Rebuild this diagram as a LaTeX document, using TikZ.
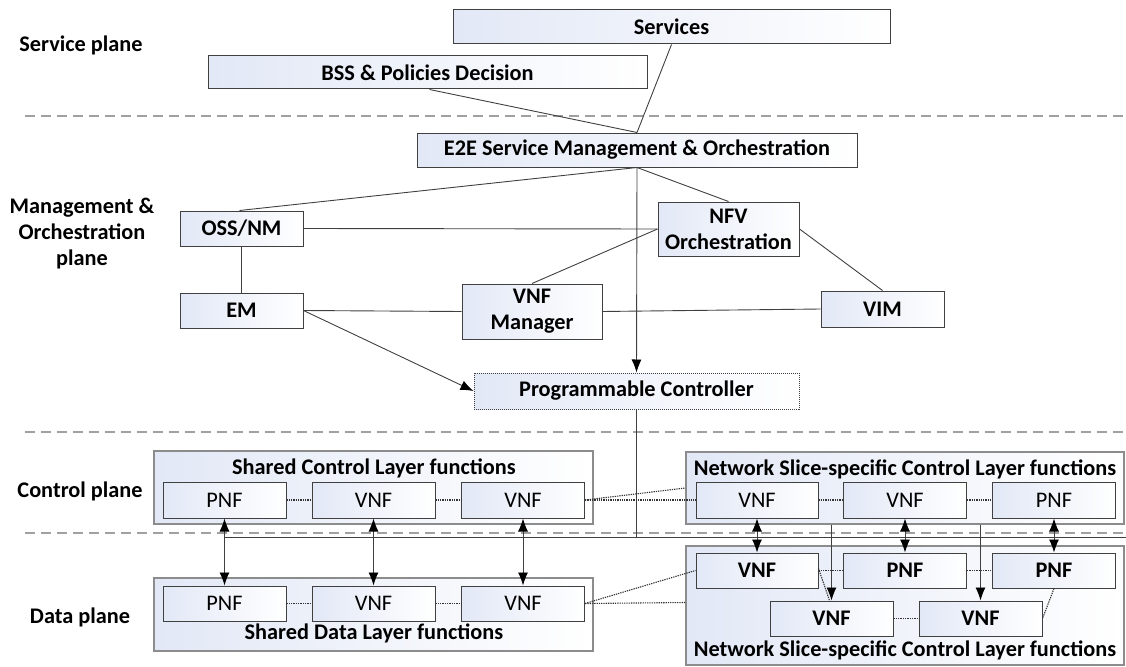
\documentclass[tikz,border=0pt]{standalone}
\usepackage{fontspec}
\setmainfont{Carlito}
\usetikzlibrary{arrows.meta}
\definecolor{boxblue}{RGB}{226,232,246}
\definecolor{edgegray}{RGB}{64,64,64}
\definecolor{framegray}{RGB}{140,140,140}
\definecolor{sepgray}{RGB}{160,160,160}
\tikzset{
  fn/.style={draw=edgegray, line width=1pt, left color=boxblue, right color=white,
    inner sep=0pt, align=center, font=\fontsize{22.3}{26}\selectfont\bfseries},
  fnreg/.style={fn, font=\fontsize{22.3}{26}\selectfont},
  frame/.style={draw=framegray, line width=1.4pt, left color=boxblue, right color=white, inner sep=0pt},
  ctrl/.style={fn, draw=edgegray, dash pattern=on 1pt off 1pt},
  link/.style={draw=edgegray, line width=0.9pt},
  arr/.style={link, -{Latex[length=13pt,width=10pt,color=black]}},
  darr/.style={link, {Latex[length=13pt,width=10pt,color=black]}-{Latex[length=13pt,width=10pt,color=black]}},
  dot/.style={draw=black!80, line width=1.1pt, dash pattern=on 1.3pt off 1pt},
  sep/.style={draw=sepgray, line width=1.3pt, dash pattern=on 10pt off 6pt},
  plane/.style={font=\fontsize{22.3}{26}\selectfont\bfseries, align=center},
  ttl/.style={font=\fontsize{22.3}{26}\selectfont\bfseries}
}
\begin{document}
\begin{tikzpicture}[x=1pt, y=-1pt]
\useasboundingbox (0,0) rectangle (1126,666);

% plane separators
\draw[sep] (25,116) -- (1126,116);
\draw[sep] (25,432) -- (1126,432);
\draw[sep] (25,533) -- (1126,533);

% plane labels
\node[plane] (lsvc) at (81,45) {Service plane};
\node[plane] (lmo) at (82,234) {Management \&\\Orchestration\\plane};
\node[plane] (lcp) at (80,491) {Control plane};
\node[plane] (ldp) at (80,617) {Data plane};

% service plane
\node[fn, minimum width=437pt, minimum height=34pt] (svc) at (671.5,27) {Services};
\node[fn, minimum width=439pt, minimum height=33pt] (bss) at (427.5,72.5) {BSS \& Policies Decision};

% management & orchestration plane
\node[fn, minimum width=440pt, minimum height=34pt] (e2e) at (637,150) {E2E Service Management \& Orchestration};
\node[fn, minimum width=123pt, minimum height=35pt] (oss) at (241.5,228.5) {OSS/NM};
\node[fn, minimum width=123pt, minimum height=35pt] (em) at (241.5,310.5) {EM};
\node[fn, minimum width=141pt, minimum height=54pt] (nfv) at (728.5,229) {NFV\\Orchestration};
\node[fn, minimum width=140pt, minimum height=55pt] (vnfm) at (532,311.5) {VNF\\Manager};
\node[fn, minimum width=123pt, minimum height=36pt] (vim) at (882.5,309) {VIM};
\node[ctrl, minimum width=325pt, minimum height=36pt] (pc) at (636.5,391) {Programmable Controller};

\draw[link] ([xshift=2pt]bss.south) -- (e2e.north);
\draw[link] (svc.south) -- (e2e.north);
\draw[link] (e2e.south) -- ([xshift=-2pt]oss.north);
\draw[link] (e2e.south) -- (nfv.north);
\draw[link] (oss.east) -- (nfv.west);
\draw[link] (oss.south) -- (em.north);
\draw[link] (em.east) -- (vnfm.west);
\draw[link] (nfv.west) -- (vnfm.north);
\draw[link] (nfv.east) -- (vim.north);
\draw[link] (vnfm.east) -- (vim.west);
\draw[arr] (em.east) -- (pc.west);
\draw[arr] (e2e.south) -- (pc.north);

% control plane
\node[frame, minimum width=439pt, minimum height=73pt] (sc) at (373.5,487.5) {};
\node[ttl] (sct) at (374,468) {Shared Control Layer functions};
\node[fnreg, minimum width=123pt, minimum height=36pt] (sc1) at (224.5,500) {PNF};
\node[fnreg, minimum width=123pt, minimum height=36pt] (sc2) at (373.5,500) {VNF};
\node[fnreg, minimum width=123pt, minimum height=36pt] (sc3) at (523,500) {VNF};

\node[frame, minimum width=438pt, minimum height=72pt] (nsc) at (905,488) {};
\node[ttl] (nsct) at (905,469) {Network Slice-specific Control Layer functions};
\node[fnreg, minimum width=122pt, minimum height=36pt] (nsc1) at (757,500) {VNF};
\node[fnreg, minimum width=123pt, minimum height=36pt] (nsc2) at (905,500) {VNF};
\node[fnreg, minimum width=123pt, minimum height=36pt] (nsc3) at (1054,500) {PNF};

% data plane
\node[frame, minimum width=439pt, minimum height=73pt] (sd) at (373.5,614.5) {};
\node[ttl] (sdt) at (374,633) {Shared Data Layer functions};
\node[fnreg, minimum width=123pt, minimum height=35pt] (sd1) at (224.5,603.5) {PNF};
\node[fnreg, minimum width=123pt, minimum height=35pt] (sd2) at (373.5,603.5) {VNF};
\node[fnreg, minimum width=123pt, minimum height=35pt] (sd3) at (523,603.5) {VNF};

\node[frame, minimum width=438pt, minimum height=119pt] (nsd) at (905,605.5) {};
\node[ttl] (nsdt) at (905,650) {Network Slice-specific Control Layer functions};
\node[fn, minimum width=122pt, minimum height=35pt] (nsd1) at (757,570.5) {VNF};
\node[fn, minimum width=123pt, minimum height=35pt] (nsd2) at (905,570.5) {PNF};
\node[fn, minimum width=123pt, minimum height=35pt] (nsd3) at (1054,570.5) {PNF};
\node[fn, minimum width=123pt, minimum height=35pt] (nsd4) at (831.5,618.5) {VNF};
\node[fn, minimum width=123pt, minimum height=35pt] (nsd5) at (980.5,618.5) {VNF};

% controller bus
\coordinate (busL) at (224,537);
\coordinate (busR) at (1126,537);
\draw[link] (pc.south) -- (pc.south |- busL);
\draw[link] (busL) -- (busR);

% dotted links between functions
\draw[dot] (sc1.east) -- (sc2.west);
\draw[dot] (sc2.east) -- (sc3.west);
\draw[dot] (sc3.east) -- (nsc.west);
\draw[dot] (sc3.east) -- (nsc1.west);
\draw[dot] (nsc1.east) -- (nsc2.west);
\draw[dot] (nsc2.east) -- (nsc3.west);
\draw[dot] (sd1.east) -- (sd2.west);
\draw[dot] (sd2.east) -- (sd3.west);
\draw[dot] (sd3.east) -- (nsd1.west);
\draw[dot] (sd3.east) -- ([yshift=3pt]nsd.west);
\draw[dot] (nsd1.east) -- (nsd2.west);
\draw[dot] (nsd2.east) -- (nsd3.west);
\draw[dot] (nsd4.east) -- (nsd5.west);
\draw[dot] ([yshift=2pt]nsd1.east) -- ([xshift=-2pt]nsd4.north);
\draw[dot] (nsd3.south) -- (nsd5.east);

% control <-> data links
\draw[darr] (sc1.south) -- (sd1.north);
\draw[darr] (sc2.south) -- (sd2.north);
\draw[darr] (sc3.south) -- (sd3.north);
\draw[darr] (nsc1.south) -- (nsd1.north);
\draw[darr] (nsc2.south) -- (nsd2.north);
\draw[darr] (nsc3.south) -- (nsd3.north);
\draw[arr] (nsd4.north |- nsc.south) -- (nsd4.north);
\draw[arr] (nsd5.north |- nsc.south) -- (nsd5.north);
\end{tikzpicture}
\end{document}
